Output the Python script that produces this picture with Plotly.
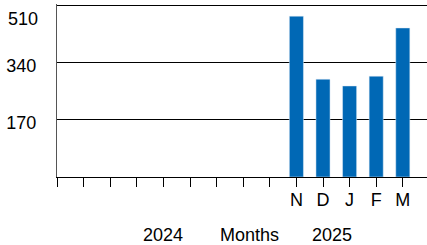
import plotly.graph_objects as go

months = ["Feb 2024", "Mar 2024", "Apr 2024", "May 2024", "Jun 2024", "Jul 2024",
          "Aug 2024", "Sep 2024", "Oct 2024", "Nov 2024", "Dec 2024", "Jan 2025",
          "Feb 2025", "Mar 2025"]
tick_labels = ["", "", "", "", "", "", "", "", "", "N", "D", "J", "F", "M"]
values = [None, None, None, None, None, None, None, None, None, 477, 290, 270, 299, 442]
y_ticks = [170, 340, 510]
y_tick_text = ["170", "340", ""]
top_label = "510"
axis_title = "Months"
year_labels = ["2024", "2025"]

positions = list(range(len(months)))

fig = go.Figure()
fig.add_trace(go.Bar(x=positions, y=values, marker_color="#0068B5", width=0.53,
                     hovertext=months))

font = dict(family="Arial, Liberation Sans, sans-serif", size=18, color="black")

fig.update_layout(
    width=427, height=245,
    margin=dict(l=57, r=0, t=4, b=68, autoexpand=False),
    paper_bgcolor="white", plot_bgcolor="white",
    showlegend=False, font=font,
    xaxis=dict(range=[0, 13.91], tickvals=positions, ticktext=tick_labels,
               showgrid=False, zeroline=False, showline=True, linecolor="black",
               linewidth=1, ticks="outside", ticklen=9, tickcolor="black",
               tickwidth=1, tickfont=font, automargin=False,
               ticklabelstandoff=-3),
    yaxis=dict(range=[0, 513], tickvals=y_ticks, ticktext=y_tick_text,
               showgrid=True, gridcolor="black", gridwidth=1, zeroline=False,
               showline=True, linecolor="#555", linewidth=1, ticks="",
               ticklabelstandoff=16, ticklabelshift=3, tickfont=font,
               automargin=False),
    annotations=[
        dict(text=top_label, xref="paper", yref="y", x=0, y=510, xanchor="right",
             yanchor="middle", xshift=-17, yshift=-14, showarrow=False, font=font),
        dict(text=year_labels[0], xref="paper", yref="paper", x=0.286, y=-0.335,
             xanchor="center", yanchor="middle", showarrow=False, font=font),
        dict(text=axis_title, xref="paper", yref="paper", x=0.52, y=-0.335,
             xanchor="center", yanchor="middle", showarrow=False, font=font),
        dict(text=year_labels[1], xref="paper", yref="paper", x=0.743, y=-0.335,
             xanchor="center", yanchor="middle", showarrow=False, font=font),
    ],
)

fig.write_html("out.html", post_script="document.body.style.margin='0';",
               config={"displayModeBar": False})
